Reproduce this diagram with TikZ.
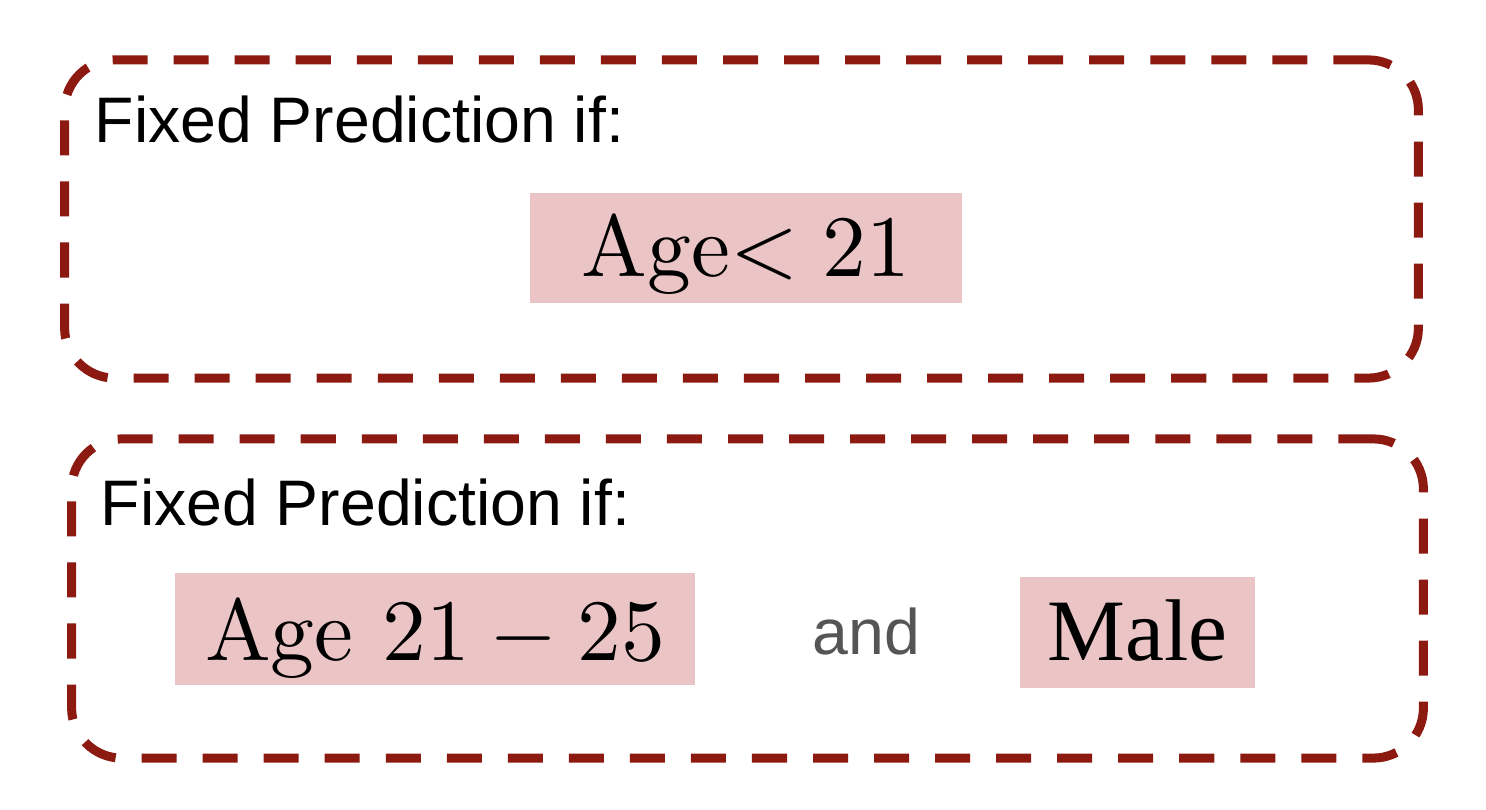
\documentclass[tikz,border=0pt]{standalone}
\usepackage{fontspec}
\newfontfamily\labelfont{Liberation Sans}
\newfontfamily\timesfont{Liberation Serif}
\definecolor{framered}{HTML}{8C1A11}
\definecolor{condpink}{HTML}{EBC5C5}
\definecolor{andgray}{HTML}{555555}
\newcommand{\condtext}[1]{\scalebox{2.49}{#1}}
\begin{document}
\begin{tikzpicture}[x=0.01cm,y=-0.01cm,
    frame/.style={draw=framered, line width=0.09cm, dash pattern=on 0.35cm off 0.26cm,
      rounded corners=0.5cm, inner sep=0},
    heading/.style={anchor=base west, inner sep=0, font=\labelfont\fontsize{18.3}{21}\selectfont},
    cond/.style={anchor=base, fill=condpink, inner sep=0, font=\fontsize{10}{12}\selectfont}]
    \useasboundingbox (0,0) rectangle (1486,810);
    \foreach \name/\cx/\cy/\w/\h/\hx/\hy in {upper/741.5/219/13.53/3.18/94/143,
        lower/747.5/598.5/13.51/3.19/100/525} {
      \node[frame, minimum width=\w cm, minimum height=\h cm] (\name frame) at (\cx,\cy) {};
      \node[heading] (\name head) at (\hx,\hy) {Fixed Prediction if:};
    }
    \node[cond, minimum width=4.32cm, text height=0.84cm, text depth=0.26cm] (ageyoung) at (746,277) {\condtext{Age$<21$}};
    \node[cond, minimum width=5.2cm, text height=0.87cm, text depth=0.25cm] (agemid) at (435,660) {\condtext{Age $21-25$}};
    \node[heading, text=andgray] (andword) at (812,654) {and};
    \node[cond, minimum width=2.35cm, text height=0.83cm, text depth=0.28cm] (male) at (1137.5,660) {\condtext{\timesfont Male}};
  \end{tikzpicture}
\end{document}
